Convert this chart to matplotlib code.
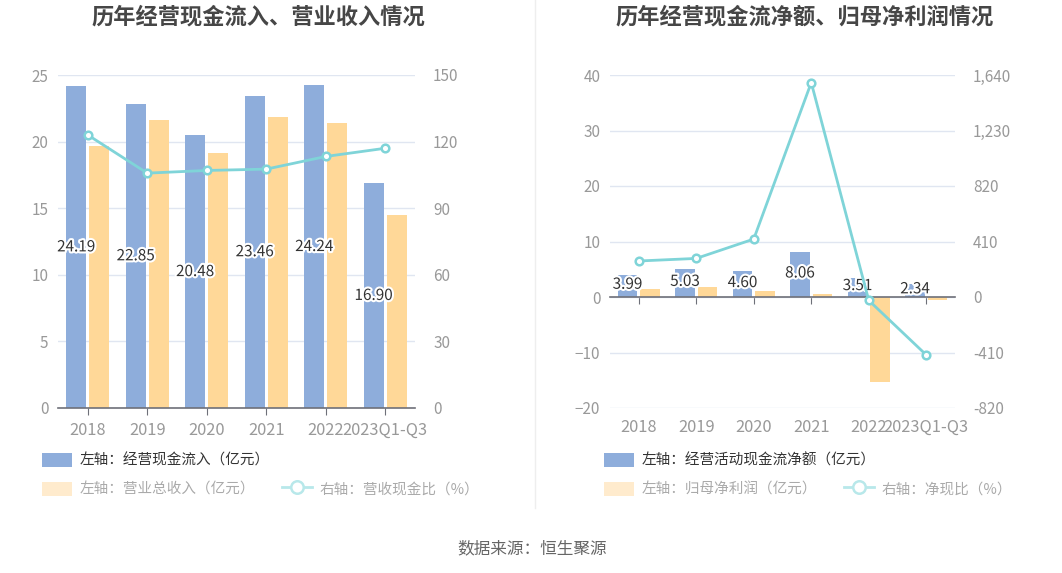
import matplotlib
matplotlib.use('Agg')
import matplotlib.pyplot as plt
import numpy as np
from matplotlib.patches import Patch
from matplotlib.lines import Line2D
import matplotlib.patheffects as pe

plt.rcParams['font.family'] = ['Noto Sans CJK SC', 'DejaVu Sans']

# ---------------- data ----------------
categories = ['2018', '2019', '2020', '2021', '2022', '2023Q1-Q3']

inflow = [24.19, 22.85, 20.48, 23.46, 24.24, 16.90]        # 经营现金流入 (亿元)
revenue = [19.68, 21.60, 19.15, 21.85, 21.40, 14.48]       # 营业总收入 (亿元)
cash_ratio = [123.0, 105.8, 107.0, 107.6, 113.3, 117.0]    # 营收现金比 (%)

net_cf = [3.99, 5.03, 4.60, 8.06, 3.51, 2.34]              # 经营活动现金流净额 (亿元)
net_profit = [1.50, 1.74, 1.14, 0.54, -15.24, -0.48]       # 归母净利润 (亿元)
net_ratio = [266, 285, 428, 1584, -25, -428]               # 净现比 (%)

left_yticks = [0, 5, 10, 15, 20, 25]
left_y2ticks = [0, 30, 60, 90, 120, 150]
right_yticks = [-20, -10, 0, 10, 20, 30, 40]
right_y2ticks = [-820, -410, 0, 410, 820, 1230, 1640]

# ---------------- style ----------------
BLUE = '#8eaddb'
ORANGE = '#ffd898'
TEAL = '#7fd4d8'
GRID = '#e0e6f1'
TICK = '#999999'
AXIS = '#6e7079'
W, H = 1062, 573

fig = plt.figure(figsize=(W / 100, H / 100), dpi=100)


def fx(px):
    return px / W


def fy(py):
    return 1 - py / H


def style_axes(ax, axr, yticks, y2ticks, y2labels):
    for s in ['top', 'right', 'left']:
        ax.spines[s].set_visible(False)
    for s in axr.spines.values():
        s.set_visible(False)
    ax.spines['bottom'].set_color(AXIS)
    ax.spines['bottom'].set_linewidth(1.2)
    ax.set_ylim(yticks[0], yticks[-1])
    ax.set_yticks(yticks)
    ax.yaxis.grid(True, color=GRID, linewidth=1)
    ax.set_axisbelow(True)
    ax.tick_params(axis='y', length=0, colors=TICK, labelsize=11, pad=7)
    axr.set_ylim(y2ticks[0], y2ticks[-1])
    axr.set_yticks(y2ticks)
    axr.set_yticklabels(y2labels)
    axr.tick_params(axis='y', length=0, colors=TICK, labelsize=11, pad=13)
    ax.set_xlim(-0.5, len(categories) - 0.5)


x = np.arange(len(categories))
bw = 0.335
off = 0.195
label_fx = [pe.withStroke(linewidth=3, foreground='white')]

# ---------------- left chart ----------------
ax1 = fig.add_axes([fx(58), fy(408), fx(357), 333 / H])
ax1r = ax1.twinx()
ax1.bar(x - off, inflow, width=bw, color=BLUE, zorder=2)
ax1.bar(x + off, revenue, width=bw, color=ORANGE, zorder=2)
for i, v in enumerate(inflow):
    ax1.text(x[i] - off, v / 2, f'{v:.2f}', ha='center', va='center',
             fontsize=11, color='#333333', path_effects=label_fx, zorder=5)
ax1r.plot(x, cash_ratio, color=TEAL, lw=2, marker='o', ms=5.5,
          mfc='white', mec=TEAL, mew=1.8, zorder=4)
style_axes(ax1, ax1r, left_yticks, left_y2ticks, [str(t) for t in left_y2ticks])
ax1.set_xticks(x)
ax1.set_xticklabels(categories)
ax1.tick_params(axis='x', length=5, color=AXIS, labelsize=11.8, pad=5)
for t in ax1.get_xticklabels():
    t.set_color(TICK)

# ---------------- right chart ----------------
ax2 = fig.add_axes([fx(610), fy(408), fx(345), 333 / H])
ax2r = ax2.twinx()
ax2.bar(x - off, net_cf, width=bw, color=BLUE, zorder=2)
ax2.bar(x + off, net_profit, width=bw, color=ORANGE, zorder=2)
for i, v in enumerate(net_cf):
    ax2.text(x[i] - off, v / 2 + 0.3, f'{v:.2f}', ha='center', va='center',
             fontsize=11, color='#333333', path_effects=label_fx, zorder=5)
ax2r.plot(x, net_ratio, color=TEAL, lw=2, marker='o', ms=5.5,
          mfc='white', mec=TEAL, mew=1.8, zorder=4)
style_axes(ax2, ax2r, right_yticks, right_y2ticks, [f'{t:,}' for t in right_y2ticks])
ax2.spines['bottom'].set_position(('data', 0))
ax2.set_xticks(x)
ax2.tick_params(axis='x', length=5, color=AXIS, labelbottom=False)
sec = ax2.secondary_xaxis(0)
sec.set_xticks(x)
sec.set_xticklabels(categories)
sec.tick_params(axis='x', length=0, colors=TICK, labelsize=11.8, pad=8)
sec.spines['bottom'].set_visible(False)

# ---------------- titles ----------------
fig.text(fx(258), fy(17), '历年经营现金流入、营业收入情况', ha='center', va='center',
         fontsize=16, fontweight='bold', color='#464646')
fig.text(fx(805), fy(17), '历年经营现金流净额、归母净利润情况', ha='center', va='center',
         fontsize=16, fontweight='bold', color='#464646')

# ---------------- legends ----------------
def make_legends(x0, lab1, lab2, lab3):
    h1 = [Patch(facecolor=BLUE, edgecolor='none')]
    l1 = fig.legend(h1, [lab1], loc='center left', bbox_to_anchor=(fx(x0), fy(460)),
                    frameon=False, fontsize=10.5, handlelength=2.05, handleheight=1.1,
                    handletextpad=0.55, borderpad=0, borderaxespad=0)
    for t in l1.get_texts():
        t.set_color('#333333')
    h2 = [Patch(facecolor='#ffebcd', edgecolor='none'),
          Line2D([], [], color='#b8e8ea', lw=2, marker='o', ms=9,
                 mfc='white', mec='#b8e8ea', mew=1.8)]
    l2 = fig.legend(h2, [lab2, lab3], loc='center left', bbox_to_anchor=(fx(x0), fy(489)),
                    ncol=2, frameon=False, fontsize=10.5, handlelength=2.05,
                    handleheight=1.1, handletextpad=0.55, columnspacing=1.8,
                    borderpad=0, borderaxespad=0)
    for t in l2.get_texts():
        t.set_color('#aaaaaa')


make_legends(42, '左轴：经营现金流入（亿元）', '左轴：营业总收入（亿元）', '右轴：营收现金比（%）')
make_legends(604, '左轴：经营活动现金流净额（亿元）', '左轴：归母净利润（亿元）', '右轴：净现比（%）')

# divider and source
fig.add_artist(Line2D([fx(535), fx(535)], [1, fy(508)], color='#eeeeee', lw=1,
                      transform=fig.transFigure))
fig.text(fx(532), fy(549), '数据来源：恒生聚源', ha='center', va='center',
         fontsize=12, color='#666666')

fig.savefig('out.png', dpi=100)
